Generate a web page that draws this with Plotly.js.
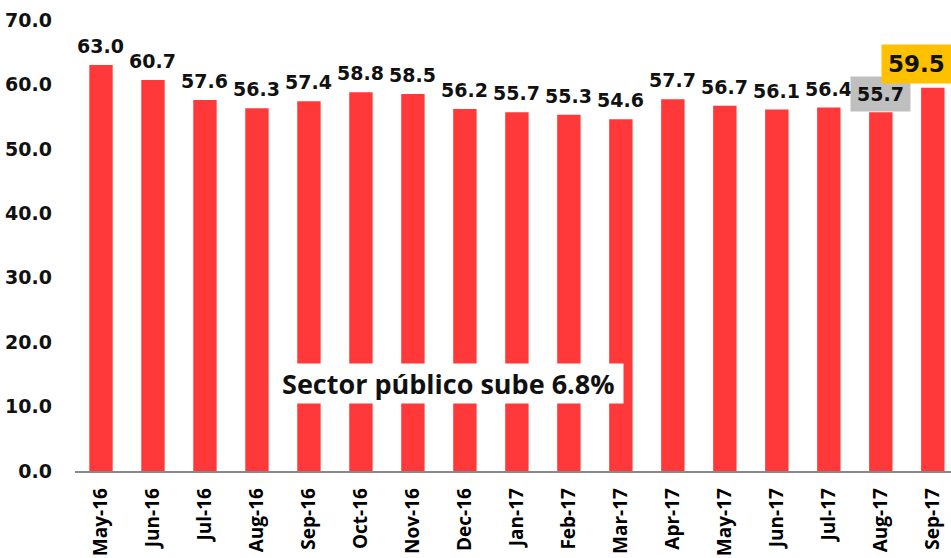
<!DOCTYPE html>
<html><head><meta charset="utf-8">
<script src="https://cdn.plot.ly/plotly-3.0.1.min.js"></script>
<style>body{margin:0;background:#fff}#c{width:951px;height:558px}</style>
</head><body><div id="c"></div>
<script>
const categories = ["May-16","Jun-16","Jul-16","Aug-16","Sep-16","Oct-16","Nov-16","Dec-16","Jan-17","Feb-17","Mar-17","Apr-17","May-17","Jun-17","Jul-17","Aug-17","Sep-17"];
const values = [63.0,60.7,57.6,56.3,57.4,58.8,58.5,56.2,55.7,55.3,54.6,57.7,56.7,56.1,56.4,55.7,59.5];
const yTicks = [0,10,20,30,40,50,60,70];
const noteText = "Sector público sube 6.8%";

const labelFont = {family:"DejaVu Sans", size:19, color:"#111", weight:"bold"};
const annotations = values.map((v,i)=>{
  const a = {x:categories[i], y:v, text:v.toFixed(1), showarrow:false, yanchor:"bottom", yshift:6, font:labelFont};
  if (i===values.length-2){ a.bgcolor="#BFBFBF"; a.borderpad=6; a.yshift=0; }
  if (i===values.length-1){ a.bgcolor="#FFC000"; a.borderpad=6; a.yshift=4; a.xshift=-16;
    a.font={family:"DejaVu Sans",size:23,color:"#111",weight:"bold"}; }
  return a;
});
annotations.push({xref:"paper", yref:"paper", x:0.4258, y:0.193, text:"<b>&nbsp;"+noteText+"&nbsp;</b>", showarrow:false,
  bgcolor:"#ffffff", borderpad:1, font:{family:"Open Sans", size:27, color:"#111"}, xanchor:"center", yanchor:"middle"});

Plotly.newPlot("c", [{
  type:"bar", x:categories, y:values, marker:{color:"#FF3939"}, hoverinfo:"none"
}], {
  width:951, height:558,
  margin:{l:75, r:0, t:20, b:87},
  paper_bgcolor:"#fff", plot_bgcolor:"#fff",
  bargap:0.55,
  showlegend:false,
  xaxis:{type:"category", range:[-0.5,16.35], tickangle:-90, showgrid:false, showline:true, linecolor:"#888", linewidth:1.5,
    ticks:"", ticklabelstandoff:8, tickfont:{family:"Open Sans", size:19, color:"#000", weight:"bold"}, fixedrange:true},
  yaxis:{range:[0,70], tickvals:yTicks, ticktext:yTicks.map(t=>t.toFixed(1)), showgrid:false, zeroline:false, showline:false,
    ticks:"", ticklabelstandoff:22, tickfont:{family:"DejaVu Sans", size:19, color:"#111", weight:"bold"}, fixedrange:true},
  annotations:annotations
}, {displayModeBar:false, staticPlot:true});
</script></body></html>
